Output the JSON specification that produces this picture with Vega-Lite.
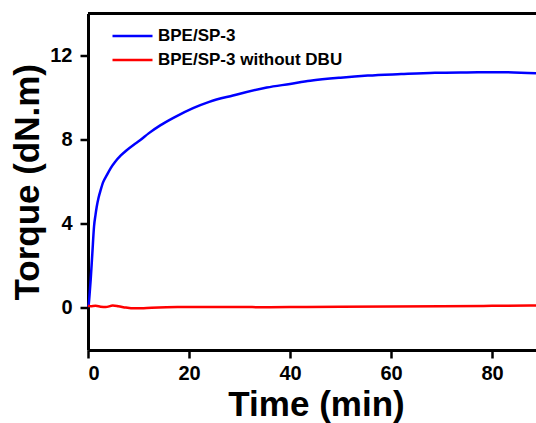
{
  "$schema": "https://vega.github.io/schema/vega-lite/v6.json",
  "autosize": {"type": "none"},
  "width": 448,
  "height": 336.5,
  "padding": {"left": 88, "top": 13.5, "right": 0, "bottom": 73},
  "background": "white",
  "config": {
    "font": "Liberation Sans",
    "view": {"stroke": null},
    "axis": {
      "domainColor": "black",
      "domainWidth": 3,
      "tickColor": "black",
      "tickWidth": 2.5,
      "tickSize": 8,
      "labelFont": "Liberation Sans",
      "labelFontWeight": "bold",
      "labelFontSize": 20,
      "labelColor": "black",
      "titleFont": "Liberation Sans",
      "titleFontWeight": "bold",
      "titleFontSize": 35,
      "titleColor": "black",
      "grid": false
    }
  },
  "datasets": {
    "curves": [
      {"t": 0, "v": 0.05, "s": "BPE/SP-3"},
      {"t": 0.1, "v": 0.1, "s": "BPE/SP-3"},
      {"t": 0.3, "v": 0.6, "s": "BPE/SP-3"},
      {"t": 0.53, "v": 1.33, "s": "BPE/SP-3"},
      {"t": 0.86, "v": 2.6, "s": "BPE/SP-3"},
      {"t": 1.19, "v": 3.86, "s": "BPE/SP-3"},
      {"t": 1.5, "v": 4.45, "s": "BPE/SP-3"},
      {"t": 1.72, "v": 4.8, "s": "BPE/SP-3"},
      {"t": 2.1, "v": 5.25, "s": "BPE/SP-3"},
      {"t": 2.5, "v": 5.6, "s": "BPE/SP-3"},
      {"t": 3.0, "v": 5.98, "s": "BPE/SP-3"},
      {"t": 3.7, "v": 6.3, "s": "BPE/SP-3"},
      {"t": 4.5, "v": 6.65, "s": "BPE/SP-3"},
      {"t": 5.35, "v": 6.94, "s": "BPE/SP-3"},
      {"t": 6.5, "v": 7.25, "s": "BPE/SP-3"},
      {"t": 7.66, "v": 7.5, "s": "BPE/SP-3"},
      {"t": 9, "v": 7.75, "s": "BPE/SP-3"},
      {"t": 10.3, "v": 7.97, "s": "BPE/SP-3"},
      {"t": 12, "v": 8.3, "s": "BPE/SP-3"},
      {"t": 14.3, "v": 8.68, "s": "BPE/SP-3"},
      {"t": 17, "v": 9.05, "s": "BPE/SP-3"},
      {"t": 20.8, "v": 9.5, "s": "BPE/SP-3"},
      {"t": 24, "v": 9.8, "s": "BPE/SP-3"},
      {"t": 28.7, "v": 10.1, "s": "BPE/SP-3"},
      {"t": 35.4, "v": 10.48, "s": "BPE/SP-3"},
      {"t": 40, "v": 10.65, "s": "BPE/SP-3"},
      {"t": 44, "v": 10.8, "s": "BPE/SP-3"},
      {"t": 50, "v": 10.95, "s": "BPE/SP-3"},
      {"t": 55.4, "v": 11.05, "s": "BPE/SP-3"},
      {"t": 62, "v": 11.12, "s": "BPE/SP-3"},
      {"t": 68.7, "v": 11.18, "s": "BPE/SP-3"},
      {"t": 75, "v": 11.2, "s": "BPE/SP-3"},
      {"t": 81.8, "v": 11.21, "s": "BPE/SP-3"},
      {"t": 88.7, "v": 11.16, "s": "BPE/SP-3"},
      {"t": 0, "v": 0.1, "s": "BPE/SP-3 without DBU"},
      {"t": 0.5, "v": 0.08, "s": "BPE/SP-3 without DBU"},
      {"t": 1.5, "v": 0.1, "s": "BPE/SP-3 without DBU"},
      {"t": 2.5, "v": 0.06, "s": "BPE/SP-3 without DBU"},
      {"t": 3.5, "v": 0.04, "s": "BPE/SP-3 without DBU"},
      {"t": 4.9, "v": 0.11, "s": "BPE/SP-3 without DBU"},
      {"t": 6, "v": 0.08, "s": "BPE/SP-3 without DBU"},
      {"t": 7.5, "v": 0.02, "s": "BPE/SP-3 without DBU"},
      {"t": 9, "v": -0.02, "s": "BPE/SP-3 without DBU"},
      {"t": 11, "v": -0.01, "s": "BPE/SP-3 without DBU"},
      {"t": 14, "v": 0.02, "s": "BPE/SP-3 without DBU"},
      {"t": 18, "v": 0.04, "s": "BPE/SP-3 without DBU"},
      {"t": 22, "v": 0.05, "s": "BPE/SP-3 without DBU"},
      {"t": 26, "v": 0.05, "s": "BPE/SP-3 without DBU"},
      {"t": 30, "v": 0.05, "s": "BPE/SP-3 without DBU"},
      {"t": 35, "v": 0.03, "s": "BPE/SP-3 without DBU"},
      {"t": 40, "v": 0.04, "s": "BPE/SP-3 without DBU"},
      {"t": 50, "v": 0.06, "s": "BPE/SP-3 without DBU"},
      {"t": 60, "v": 0.07, "s": "BPE/SP-3 without DBU"},
      {"t": 70, "v": 0.08, "s": "BPE/SP-3 without DBU"},
      {"t": 80, "v": 0.1, "s": "BPE/SP-3 without DBU"},
      {"t": 88.7, "v": 0.12, "s": "BPE/SP-3 without DBU"}
    ],
    "frame": [{"top": 14}]
  },
  "layer": [
    {
      "data": {"name": "curves"},
      "mark": {"type": "line", "strokeWidth": 2.5, "interpolate": "monotone"},
      "encoding": {
        "x": {
          "field": "t", "type": "quantitative",
          "scale": {"domain": [0, 88.7], "nice": false, "zero": false},
          "axis": {"values": [0, 20, 40, 60, 80], "title": "Time (min)", "labelPadding": 5, "titlePadding": 4, "titleX": 228}
        },
        "y": {
          "field": "v", "type": "quantitative",
          "scale": {"domain": [-2, 14], "nice": false, "zero": false},
          "axis": {"values": [0, 4, 8, 12], "title": "Torque (dN.m)", "labelPadding": 8, "titlePadding": 4}
        },
        "color": {
          "field": "s", "type": "nominal",
          "scale": {"domain": ["BPE/SP-3", "BPE/SP-3 without DBU"], "range": ["#0000ff", "#ff0000"]},
          "legend": {
            "title": null,
            "orient": "none",
            "legendX": 33,
            "legendY": 11,
            "padding": 0,
            "symbolType": "M-2,0H2",
            "symbolSize": 400,
            "symbolStrokeWidth": 2.5,
            "labelFont": "Liberation Sans",
            "labelFontWeight": "bold",
            "labelFontSize": 17,
            "labelColor": "black",
            "labelOffset": 14,
            "rowPadding": 4,
            "labelLimit": 400
          }
        }
      }
    },
    {
      "data": {"name": "frame"},
      "mark": {"type": "rule", "strokeWidth": 3, "color": "black"},
      "encoding": {"y": {"field": "top", "type": "quantitative"}}
    }
  ]
}
